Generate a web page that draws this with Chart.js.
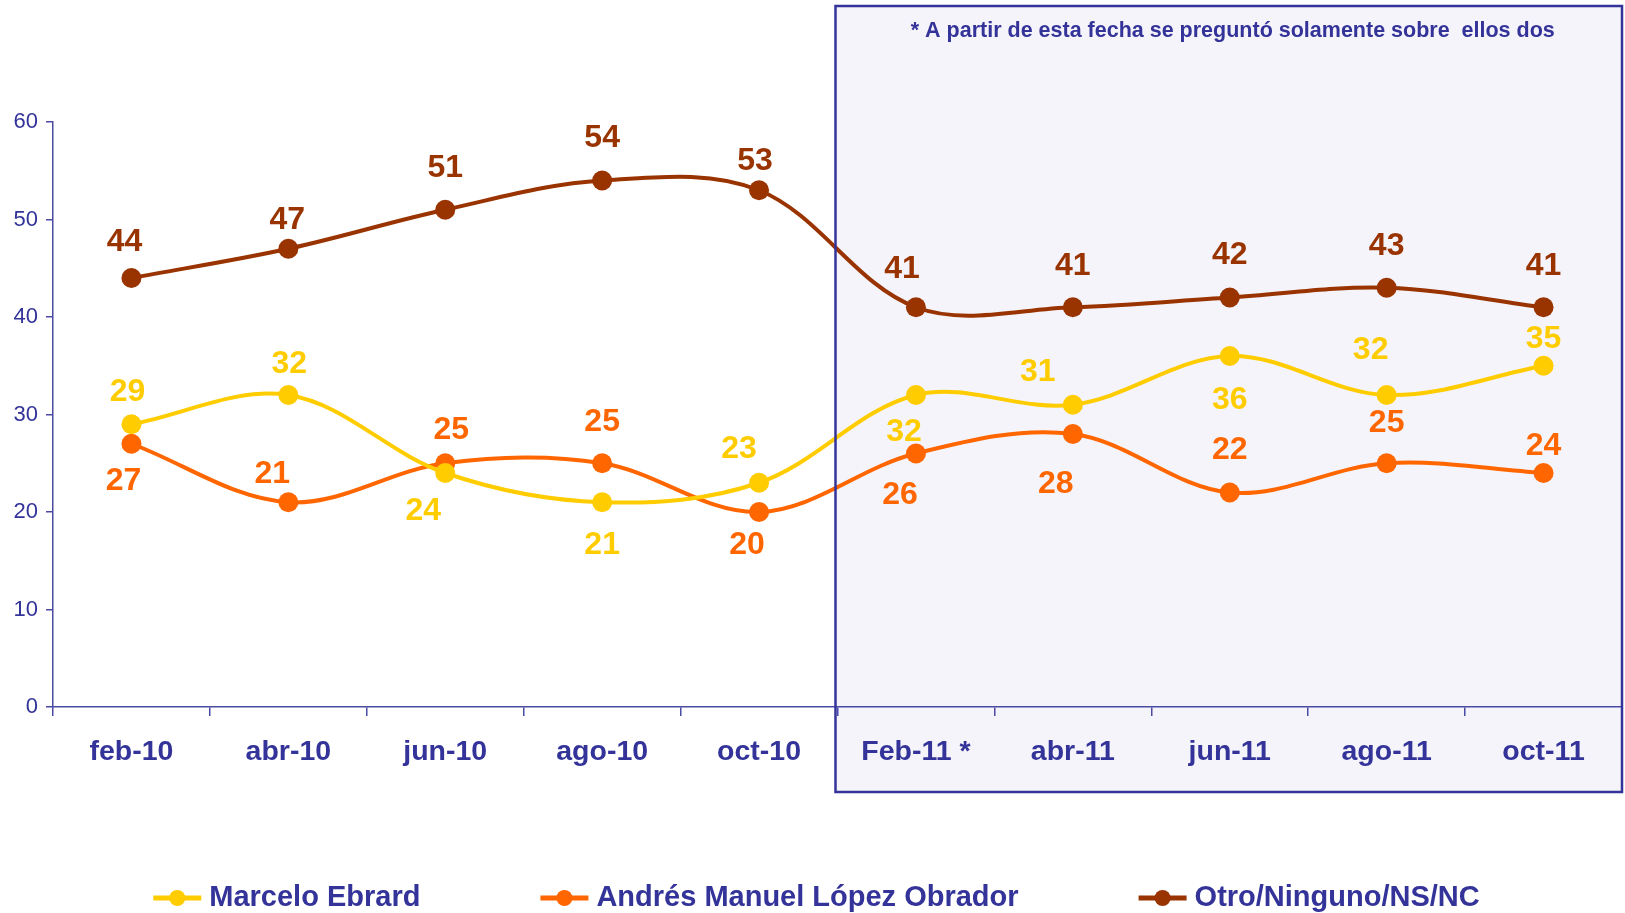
<!DOCTYPE html>
<html>
<head>
<meta charset="utf-8">
<script src="https://cdn.jsdelivr.net/npm/chart.js@4.4.1/dist/chart.umd.min.js"></script>
<style>
  html, body { margin: 0; padding: 0; background: #fff; }
</style>
</head>
<body>
<canvas id="chart" width="1625" height="913"></canvas>
<script>
const months = ['feb-10', 'abr-10', 'jun-10', 'ago-10', 'oct-10', 'Feb-11 *', 'abr-11', 'jun-11', 'ago-11', 'oct-11'];

const ebrard = [29, 32, 24, 21, 23, 32, 31, 36, 32, 35];
const amlo = [27, 21, 25, 25, 20, 26, 28, 22, 25, 24];
const otro = [44, 47, 51, 54, 53, 41, 41, 42, 43, 41];

const seriesNames = ['Marcelo Ebrard', 'Andrés Manuel López Obrador', 'Otro/Ninguno/NS/NC'];
const noteText = '* A partir de esta fecha se preguntó solamente sobre  ellos dos';

// where each value label sits relative to its point [dx, dy]
const ebrardLabelPos = [[-4, -32], [1, -31], [-22, 38], [0, 43], [-20, -34], [-12, 37], [-35, -33], [0, 44], [-16, -45], [0, -27]];
const amloLabelPos = [[-8, 37], [-16, -28], [6, -33], [0, -41], [-12, 33], [-16, 42], [-17, 50], [0, -42], [0, -40], [0, -27]];
const otroLabelPos = [[-7, -36], [-1, -29], [0, -42], [0, -42], [-4, -29], [-14, -38], [0, -41], [0, -42], [0, -42], [0, -41]];

const NAVY = '#333399';
const AXIS = '#4b4ba3';
const FONT = "'Liberation Sans', Arial, sans-serif";

function lineSet(label, color, data, labelPos) {
    return {
        label: label,
        data: data,
        borderColor: color,
        backgroundColor: color,
        pointBackgroundColor: color,
        pointBorderWidth: 0,
        pointRadius: 10,
        borderWidth: 4,
        tension: 0.35,
        fill: false,
        clip: false,
        labelPos: labelPos
    };
}

const shadedBox = {
    id: 'shadedBox',
    beforeDraw(chart) {
        const { ctx, chartArea, scales } = chart;
        const left = scales.x.getPixelForValue(4.5) - 2;
        ctx.save();
        ctx.fillStyle = '#f5f4fa';
        ctx.fillRect(left, 6, chartArea.right - left, 786);
        ctx.restore();
    },
    afterDatasetsDraw(chart) {
        const { ctx, chartArea, scales } = chart;
        const left = scales.x.getPixelForValue(4.5) - 2;
        ctx.save();
        ctx.strokeStyle = NAVY;
        ctx.lineWidth = 2.5;
        ctx.strokeRect(left, 6, chartArea.right - left, 786);
        ctx.fillStyle = NAVY;
        ctx.font = 'bold 21.5px ' + FONT;
        ctx.textAlign = 'center';
        ctx.textBaseline = 'middle';
        ctx.fillText(noteText, (left + chartArea.right) / 2 + 4, 31);
        ctx.restore();
    }
};

const valueLabels = {
    id: 'valueLabels',
    afterDatasetsDraw(chart) {
        const ctx = chart.ctx;
        ctx.save();
        ctx.font = 'bold 32px ' + FONT;
        ctx.textAlign = 'center';
        ctx.textBaseline = 'middle';
        chart.data.datasets.forEach((ds, i) => {
            const meta = chart.getDatasetMeta(i);
            ctx.fillStyle = ds.borderColor;
            meta.data.forEach((pt, j) => {
                const off = ds.labelPos[j];
                ctx.fillText(String(ds.data[j]), pt.x + off[0], pt.y + off[1]);
            });
        });
        ctx.restore();
    }
};

const bottomLegend = {
    id: 'bottomLegend',
    afterDraw(chart) {
        const ctx = chart.ctx;
        const markW = 48, gap = 8, spacing = 120, y = 898;
        ctx.save();
        ctx.font = 'bold 29px ' + FONT;
        ctx.textBaseline = 'middle';
        const items = chart.data.datasets.map(ds => ({
            label: ds.label,
            color: ds.borderColor,
            w: markW + gap + ctx.measureText(ds.label).width
        }));
        const total = items.reduce((s, it) => s + it.w, 0) + spacing * (items.length - 1);
        let x = (chart.width - total) / 2 + 4;
        items.forEach(it => {
            ctx.strokeStyle = it.color;
            ctx.lineWidth = 5;
            ctx.beginPath();
            ctx.moveTo(x, y);
            ctx.lineTo(x + markW, y);
            ctx.stroke();
            ctx.fillStyle = it.color;
            ctx.beginPath();
            ctx.arc(x + markW / 2, y, 8, 0, Math.PI * 2);
            ctx.fill();
            ctx.fillStyle = NAVY;
            ctx.fillText(it.label, x + markW + gap, y);
            x += it.w + spacing;
        });
        ctx.restore();
    }
};

new Chart(document.getElementById('chart'), {
    type: 'line',
    data: {
        labels: months,
        datasets: [
            lineSet(seriesNames[0], '#ffcc00', ebrard, ebrardLabelPos),
            lineSet(seriesNames[1], '#ff6600', amlo, amloLabelPos),
            lineSet(seriesNames[2], '#993300', otro, otroLabelPos)
        ]
    },
    options: {
        responsive: false,
        animation: false,
        devicePixelRatio: 1,
        layout: { autoPadding: false, padding: { top: 122, right: 3, bottom: 0, left: 0 } },
        plugins: {
            legend: { display: false },
            tooltip: { enabled: false }
        },
        scales: {
            x: {
                offset: true,
                grid: { offset: true, drawOnChartArea: false, tickLength: 9, color: AXIS, lineWidth: 1.5 },
                border: { color: AXIS, width: 1.5 },
                ticks: { color: NAVY, font: { family: FONT, size: 28.5, weight: 'bold' }, padding: 19, maxRotation: 0 },
                afterFit: s => { s.height = 206; s.paddingLeft = 0; s.paddingRight = 0; }
            },
            y: {
                min: 0,
                max: 60,
                ticks: { stepSize: 10, color: NAVY, font: { family: FONT, size: 22 }, padding: 8 },
                grid: { drawOnChartArea: false, tickLength: 7, color: AXIS, lineWidth: 1.5 },
                border: { color: AXIS, width: 1.5 },
                afterFit: s => { s.width = 53; }
            }
        }
    },
    plugins: [shadedBox, valueLabels, bottomLegend]
});
</script>
</body>
</html>
